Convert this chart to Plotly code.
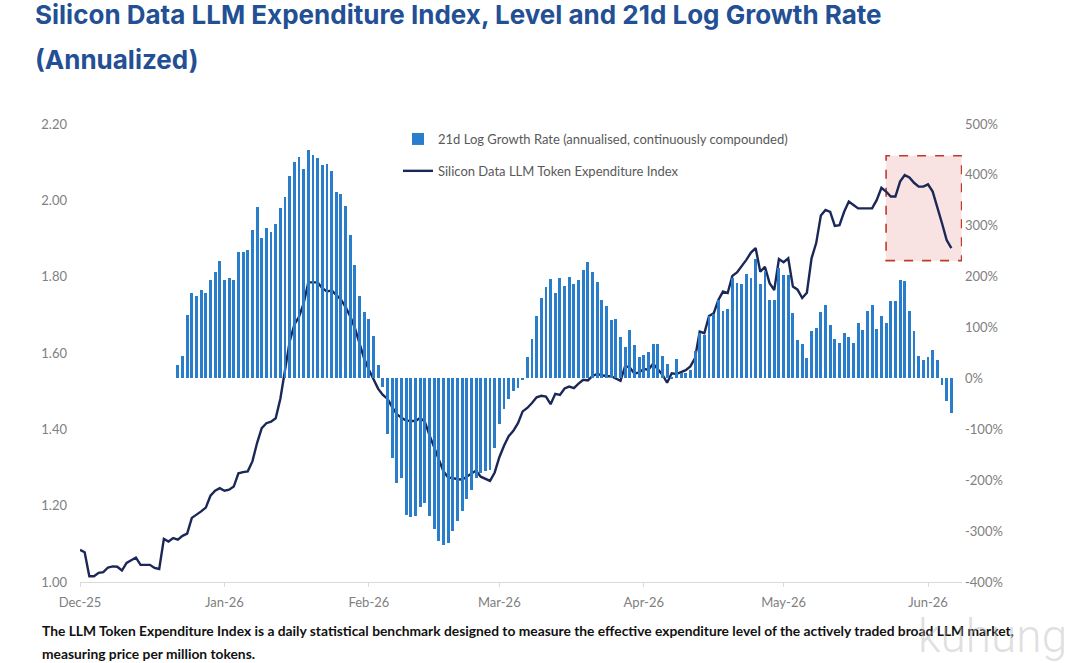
import pandas as pd
import plotly.graph_objects as go

# ---------------- data ----------------
line_start = "2025-12-01"   # daily index level, Dec 1 2025 .. Jun 6 2026
bar_start = "2025-12-22"    # daily 21d growth rate, Dec 22 2025 .. Jun 6 2026

index_dec = [1.084, 1.078, 1.015, 1.015, 1.024, 1.026, 1.038, 1.041, 1.040, 1.030, 1.050,
             1.057, 1.064, 1.045, 1.045, 1.045, 1.037, 1.034, 1.113, 1.106, 1.115, 1.111,
             1.121, 1.127, 1.168, 1.176, 1.185, 1.195, 1.226, 1.239, 1.246]
index_jan = [1.239, 1.242, 1.250, 1.285, 1.288, 1.290, 1.316, 1.364, 1.403, 1.416, 1.420,
             1.429, 1.480, 1.560, 1.630, 1.674, 1.695, 1.730, 1.785, 1.785, 1.785, 1.770,
             1.761, 1.764, 1.752, 1.740, 1.720, 1.696, 1.665, 1.626, 1.585]
index_feb = [1.556, 1.532, 1.506, 1.490, 1.480, 1.458, 1.440, 1.430, 1.423, 1.422, 1.422,
             1.430, 1.420, 1.385, 1.352, 1.322, 1.290, 1.274, 1.271, 1.270, 1.268, 1.276,
             1.283, 1.292, 1.276, 1.270, 1.265, 1.287]
index_mar = [1.327, 1.357, 1.382, 1.396, 1.416, 1.447, 1.456, 1.469, 1.484, 1.488, 1.486,
             1.466, 1.493, 1.490, 1.507, 1.512, 1.508, 1.520, 1.530, 1.528, 1.540, 1.545,
             1.543, 1.539, 1.539, 1.533, 1.527, 1.566, 1.562, 1.546, 1.549]
index_apr = [1.558, 1.556, 1.572, 1.556, 1.543, 1.522, 1.547, 1.545, 1.549, 1.555, 1.565,
             1.587, 1.656, 1.652, 1.697, 1.704, 1.739, 1.761, 1.757, 1.802, 1.811, 1.826,
             1.844, 1.863, 1.875, 1.813, 1.826, 1.783, 1.765, 1.846]
index_may = [1.838, 1.848, 1.774, 1.766, 1.744, 1.758, 1.848, 1.888, 1.960, 1.975, 1.970,
             1.933, 1.935, 1.970, 1.997, 1.988, 1.979, 1.979, 1.979, 1.979, 2.001, 2.033,
             2.023, 2.010, 2.010, 2.049, 2.066, 2.060, 2.046, 2.036, 2.036]
index_jun = [2.042, 2.023, 1.983, 1.940, 1.896, 1.875]

growth_dec = [27, 45, 124, 167, 163, 173, 168, 194, 209, 231]
growth_jan = [194, 198, 194, 248, 248, 252, 292, 337, 276, 295, 288, 304, 334, 356, 397, 426,
              436, 411, 449, 439, 434, 420, 422, 407, 367, 362, 339, 282, 222, 163, 130]
growth_feb = [116, 84, 26, -17, -109, -157, -206, -195, -269, -272, -271, -253, -244, -270,
              -295, -319, -327, -324, -300, -280, -260, -236, -219, -195, -185, -182, -180, -136]
growth_mar = [-89, -60, -41, -25, -18, -2, 42, 77, 123, 159, 180, 196, 168, 198, 181, 200, 185,
              193, 214, 229, 210, 189, 155, 143, 115, 116, 81, 62, 96, 65, 42]
growth_apr = [47, 52, 68, 67, 44, 29, 3, 39, 11, 10, 16, 54, 90, 86, 122, 126, 155, 132, 137,
              198, 188, 185, 206, 198, 234, 185, 211, 155, 155, 217]
growth_may = [204, 203, 129, 75, 67, 41, 93, 100, 131, 145, 106, 78, 70, 90, 82, 69, 109, 96,
              132, 144, 98, 122, 109, 152, 152, 193, 191, 132, 93, 44, 37]
growth_jun = [43, 56, 37, -12, -45, -67]

left_ticks = [1.00, 1.20, 1.40, 1.60, 1.80, 2.00, 2.20]
right_ticks = [-400, -300, -200, -100, 0, 100, 200, 300, 400, 500]
right_labels = ["-400%", "-300%", "-200%", "-100%", "0%", "100%", "200%", "300%", "400%", "500%"]

highlight_x = ["2026-05-23", "2026-06-08 05:00"]
highlight_y = [1.842, 2.117]

title_l1 = "Silicon Data LLM Expenditure Index, Level and 21d Log Growth Rate"
title_l2 = "(Annualized)"
caption_l1 = ("The LLM Token Expenditure Index is a daily statistical benchmark designed to measure "
              "the effective expenditure level of the actively traded broad LLM market,")
caption_l2 = "measuring price per million tokens."
bar_name = "21d Log Growth Rate (annualised, continuously compounded)"
line_name = "Silicon Data LLM Token Expenditure Index"

# ---------------- build ----------------
index_vals = index_dec + index_jan + index_feb + index_mar + index_apr + index_may + index_jun
growth_vals = growth_dec + growth_jan + growth_feb + growth_mar + growth_apr + growth_may + growth_jun
line_dates = pd.date_range(line_start, periods=len(index_vals), freq="D")
bar_dates = pd.date_range(bar_start, periods=len(growth_vals), freq="D")

W, H = 1071, 663
L, R, T, B = 80, 109, 124, 81
pw, ph = W - L - R, H - T - B

def px(x):
    return (x - L) / pw

def py(y):
    return (H - B - y) / ph

fig = go.Figure()
fig.add_trace(go.Bar(
    x=bar_dates, y=growth_vals, name=bar_name, yaxis="y2",
    marker=dict(color="#2a7dcb", line=dict(width=0)),
    width=0.62 * 86400000, legendgroup="g1",
))
fig.add_trace(go.Scatter(
    x=line_dates, y=index_vals, name=line_name, mode="lines", yaxis="y",
    line=dict(color="#1b2857", width=2.4), legendgroup="g2",
))

fig.add_shape(type="rect", xref="x", yref="y",
              x0=highlight_x[0], x1=highlight_x[1], y0=highlight_y[0], y1=highlight_y[1],
              fillcolor="rgba(236,160,160,0.30)",
              line=dict(color="#c0392b", width=1.6, dash="dash"), layer="below")

tick_font = dict(family="Lato, sans-serif", size=13, color="#808080")

fig.update_layout(
    width=W, height=H,
    margin=dict(l=L, r=R, t=T, b=B),
    paper_bgcolor="white", plot_bgcolor="white",
    bargap=0,
    showlegend=True,
    legend=dict(x=px(398), y=py(124), xanchor="left", yanchor="top",
                font=dict(family="Lato, sans-serif", size=13, color="#595959"),
                bgcolor="rgba(0,0,0,0)", traceorder="grouped", tracegroupgap=12,
                itemwidth=30),
    xaxis=dict(type="date", range=["2025-12-01", "2026-06-08 07:00"],
               tick0="2025-12-01", dtick="M1", tickformat="%b-%y",
               showgrid=False, zeroline=False, showline=True, linecolor="#d9d9d9",
               linewidth=1, ticks="outside", ticklen=4, tickcolor="#d9d9d9",
               ticklabelstandoff=4, tickfont=tick_font),
    yaxis=dict(range=[1.0, 2.2], tickvals=left_ticks, tickformat=".2f",
               showgrid=False, zeroline=False, showline=False, ticks="",
               ticklabelstandoff=12, tickfont=tick_font),
    yaxis2=dict(range=[-400, 500], tickvals=right_ticks, ticktext=right_labels,
                overlaying="y", side="right", showgrid=False, zeroline=False,
                showline=False, ticks="", ticklabelstandoff=2, tickfont=tick_font),
)

title_font = dict(family="Inter, sans-serif", size=26, color="#234f94", weight="bold")
fig.add_annotation(text=title_l1, x=px(33), y=py(15), xref="paper", yref="paper",
                   xanchor="left", yanchor="middle", showarrow=False, font=title_font)
fig.add_annotation(text=title_l2, x=px(33), y=py(60), xref="paper", yref="paper",
                   xanchor="left", yanchor="middle", showarrow=False, font=title_font)

cap_font = dict(family="Lato, sans-serif", size=13.8, color="#111111", weight="bold")
fig.add_annotation(text=caption_l1, x=px(40), y=py(630), xref="paper", yref="paper",
                   xanchor="left", yanchor="middle", showarrow=False, font=cap_font)
fig.add_annotation(text=caption_l2, x=px(40), y=py(653), xref="paper", yref="paper",
                   xanchor="left", yanchor="middle", showarrow=False, font=cap_font)

fig.add_annotation(text="kuhung", x=px(992), y=py(636), xref="paper", yref="paper",
                   xanchor="center", yanchor="middle", showarrow=False,
                   font=dict(family="Roboto, sans-serif", size=46, weight=300,
                             color="rgba(185,185,185,0.45)"))

fig.write_html("out.html")
